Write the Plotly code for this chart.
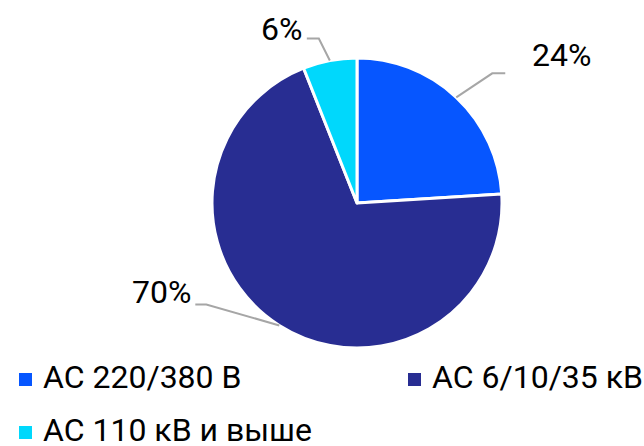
import math
import plotly.graph_objects as go

# ---- data ----
categories = ["АС 220/380 В", "АС 6/10/35 кВ", "АС 110 кВ и выше"]
values = [24, 70, 6]
colors = ["#0656FF", "#282D92", "#00D8FC"]

# ---- layout / style ----
W, H = 644, 446
cx, cy, R = 357, 203, 145
FONT = "Roboto"
FS = 32
LINE_COLOR = "#A6A6A6"

# per-slice leader style: elbow offset from slice edge, horizontal run, label offset from line end
leader_style = [
    dict(elbow=(36, -24), run=13, label=(56, -18)),
    dict(elbow=(-73, -21), run=-11, label=(-34, -12)),
    dict(elbow=(-11, -22), run=-12, label=(-25, -10)),
]

def px(x):
    return x / W

def py(y):
    return 1 - y / H

fig = go.Figure()
fig.add_trace(go.Pie(
    labels=categories,
    values=values,
    sort=False,
    direction="clockwise",
    rotation=0,
    marker=dict(colors=colors, line=dict(color="white", width=3)),
    textinfo="none",
    hoverinfo="label+percent",
    showlegend=False,
    domain=dict(x=[px(cx - R), px(cx + R)], y=[py(cy + R), py(cy - R)]),
))

total = sum(values)
shapes = []
annotations = []
cum = 0.0
for v, st in zip(values, leader_style):
    mid = (cum + v / 2) / total * 2 * math.pi
    cum += v
    sx = cx + R * math.sin(mid)
    sy = cy - R * math.cos(mid)
    ex, ey = sx + st["elbow"][0], sy + st["elbow"][1]
    hx = ex + st["run"]
    shapes.append(dict(
        type="path", xref="paper", yref="paper",
        path=f"M {px(sx)} {py(sy)} L {px(ex)} {py(ey)} L {px(hx)} {py(ey)}",
        line=dict(color=LINE_COLOR, width=2),
    ))
    annotations.append(dict(
        x=px(hx + st["label"][0]), y=py(ey + st["label"][1]),
        xref="paper", yref="paper", xanchor="center", yanchor="middle",
        text=f"{round(v / total * 100)}%", showarrow=False,
        font=dict(family=FONT, size=FS, color="#000000"),
    ))

# legend (manual, two columns)
legend_pos = [(19, 373), (408, 373), (19, 426)]
for name, col, (lx, ly) in zip(categories, colors, legend_pos):
    shapes.append(dict(
        type="rect", xref="paper", yref="paper",
        x0=px(lx), x1=px(lx + 13), y0=py(ly + 13), y1=py(ly),
        fillcolor=col, line=dict(width=0),
    ))
    annotations.append(dict(
        x=px(lx + 22), y=py(ly + 4),
        xref="paper", yref="paper", xanchor="left", yanchor="middle",
        text=name, showarrow=False,
        font=dict(family=FONT, size=FS, color="#000000"),
    ))

fig.update_layout(
    width=W, height=H, autosize=False,
    margin=dict(l=0, r=0, t=0, b=0),
    paper_bgcolor="white", plot_bgcolor="white",
    shapes=shapes, annotations=annotations,
    font=dict(family=FONT),
)
fig.write_html(
    "out.html",
    config={"displayModeBar": False},
    post_script="document.body.style.margin='0';document.body.style.overflow='hidden';",
)
